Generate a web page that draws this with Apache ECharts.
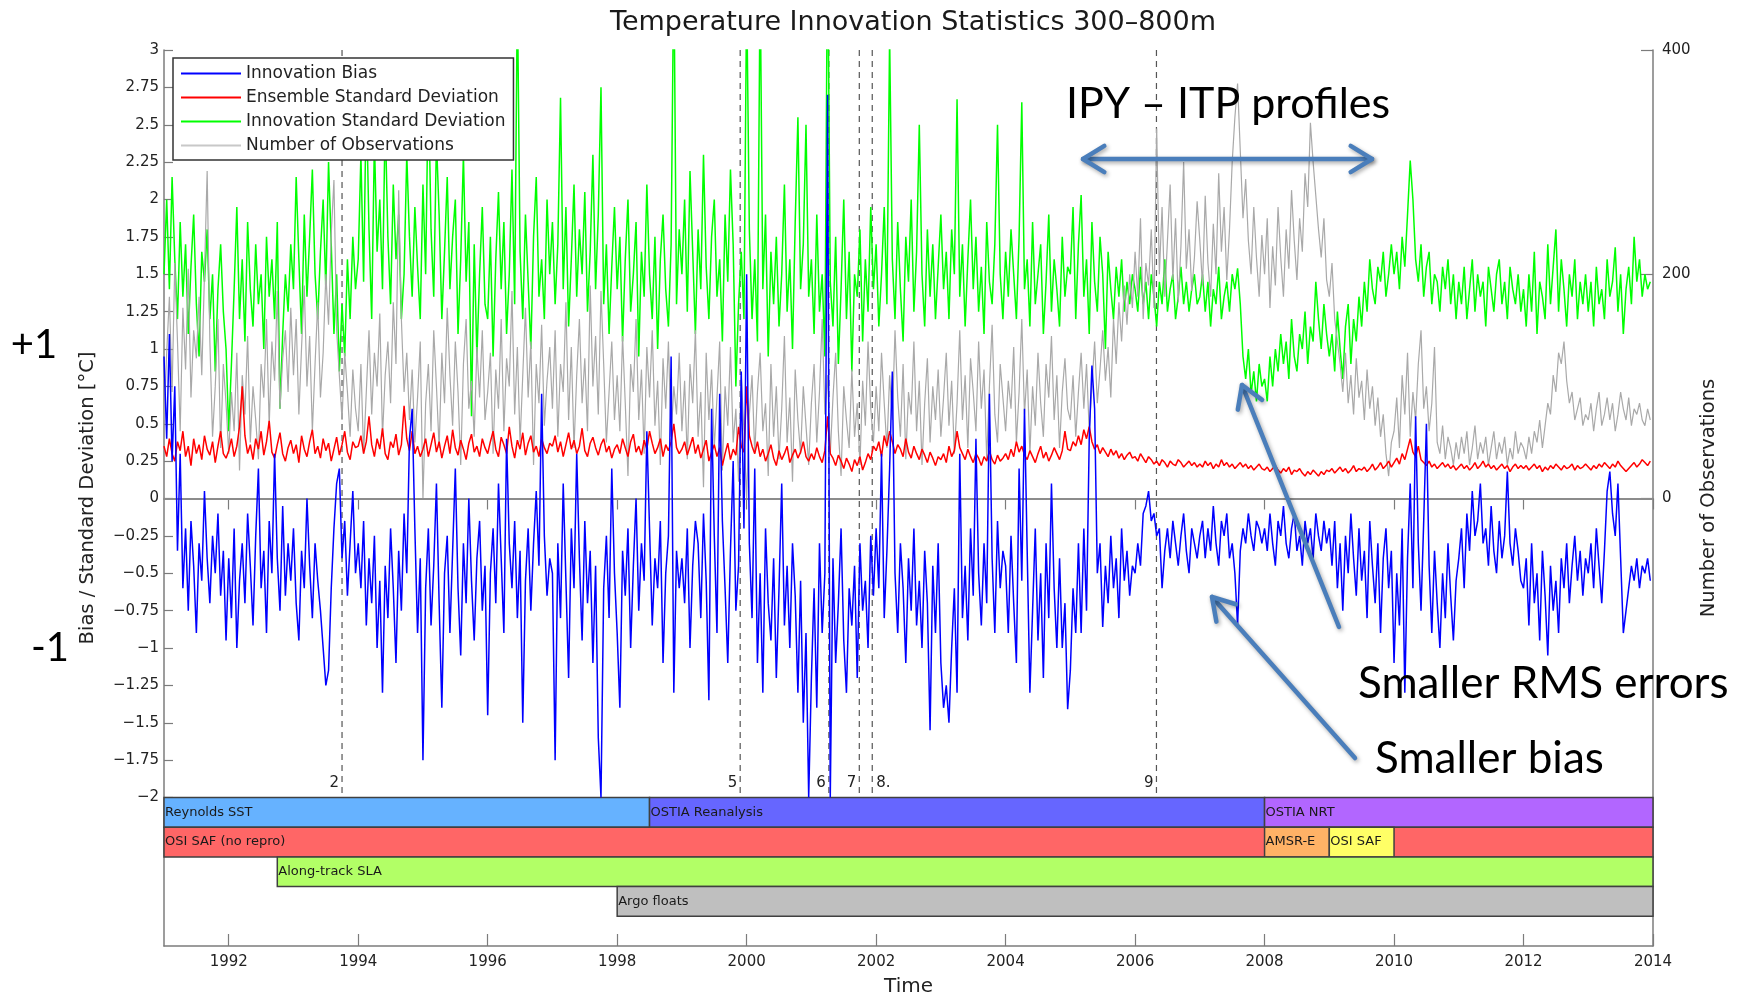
<!DOCTYPE html>
<html>
<head>
<meta charset="utf-8">
<script src="https://cdn.jsdelivr.net/npm/echarts@6/dist/echarts.min.js"></script>
<style>
  html, body { margin: 0; padding: 0; background: #ffffff; }
  #chart { width: 1749px; height: 1004px; }
</style>
</head>
<body>
<div id="chart"></div>
<script>
// Sampling: two values per month, starting January 1991
const START_YEAR = 1991;
const SAMPLES_PER_YEAR = 24;

// Innovation bias, hundredths of a degree C (one row per year)
const innovationBias = [
  95, 40, 110, 25, 75, -35, 30, -60, -20, -75, -15, -45, -90, -30, -55, 5, -40, -70, -25, -50, -10, -65, -35, -95,
  -40, -80, -20, -100, -55, -30, -70, -10, -45, -85, -25, 20, -60, -35, -90, -15, -50, 30, -40, -75, -5, -65, -30, -55,
  -20, -70, -95, -35, -60, 0, -45, -80, -30, -55, -75, -100, -125, -115, -60, -20, 10, 20, -40, -15, -65, -30, 5, -50,
  -30, -60, -15, -85, -40, -70, -25, -100, -55, -130, -45, -80, -20, -60, -110, -35, -75, -10, -50, 40, 60, -20, -90, -40,
  -175, -60, -20, -85, -45, 10, -70, -140, -50, -25, -90, -35, 20, -60, -105, -30, -70, 0, -55, -95, -40, -15, -75, -45,
  -145, -50, -20, -70, 10, -40, -90, 40, -30, -60, -15, -80, -35, -150, -55, -20, -75, -30, 5, -45, 70, -25, -65, -40,
  -50, -175, -30, -80, 10, -55, -120, -20, -60, 30, -40, -95, -15, -70, -35, -110, -45, -160, -200, -60, -25, -80, 20, -50,
  -90, -140, -35, -65, -20, -100, -45, 0, -75, -30, -55, 45, -20, -85, -40, -60, -15, -110, -50, -25, 95, -130, -35, -60,
  -40, -70, -20, -100, -45, -15, -30, -80, -10, -55, -135, 60, -25, -90, 70, -15, -60, -110, -35, 25, -75, -45, 85, -20,
  150, -30, -80, 20, -110, -50, -130, -20, -70, -95, -40, -120, -60, 10, -85, -45, -100, -30, -65, -130, -55, -150, -90, -200,
  -120, -60, -140, -30, -90, -50, 270, -200, -40, -110, -70, -20, -95, -130, -60, -85, -45, -120, -30, -75, -55, -100, -25, -65,
  -20, -60, 30, -80, -35, 20, 85, -50, -90, -30, -60, -110, -40, -75, -20, -85, -55, -100, -35, -70, -155, -45, -90, -30,
  -110, -140, -125, -150, -100, -60, -130, 30, -80, -45, -95, -20, -65, 40, -50, -85, -30, -70, 70, -40, -90, -15, -60, -35,
  -45, -90, -25, -70, -110, 20, -55, 60, -35, -130, -75, -20, -95, -50, -120, -30, -80, 10, -60, -100, -40, -100, -70, -141,
  -115, -60, -90, -30, -90, -20, -75, 40, 89, 60, -50, -30, -86, -45, -70, -25, -60, -40, -80, -20, -55, -35, -65, -45,
  -50, -30, -45, -10, -5, 5, -15, -10, -25, -20, -60, -35, -20, -40, -15, -30, -45, -25, -10, -35, -50, -20, -30, -40,
  -25, -15, -40, -20, -35, -5, -30, -45, -15, -25, -10, -40, -30, -50, -85, -35, -20, -30, -10, -25, -35, -15, -20, -30,
  -20, -35, -10, -30, -45, -15, -25, -5, -30, -40, -20, -10, -35, -25, -45, -15, -30, -20, -40, -10, -25, -35, -15, -30,
  -20, -45, -15, -60, -30, -75, -25, -50, -10, -40, -65, -20, -55, -35, -80, -15, -45, -70, -30, -90, -40, -20, -60, -35,
  -110, -50, -85, -20, -130, -40, 10, -60, 55, -30, -75, -15, 50, -45, -90, -35, -70, -100, -50, -80, -30, -65, -95, -55,
  -40, -20, -60, -10, -35, 5, -25, -15, 10, -30, -20, -45, -5, -35, -50, -15, -40, -25, 18, -30, -45, -20, -35, -55,
  -60, -40, -85, -30, -70, -50, -95, -35, -65, -105, -45, -75, -55, -90, -40, -60, -30, -70, -45, -25, -55, -35, -65, -40,
  -50, -30, -60, -20, -45, -70, -35, 5, 18, -10, -25, 10, -40, -90, -75, -60, -45, -55, -40, -60, -45, -50, -40, -55
];

// Ensemble standard deviation, hundredths of a degree C
const ensembleStd = [
  35, 28, 40, 30, 25, 38, 32, 45, 28, 35, 22, 40, 30, 36, 26, 42, 33, 29, 38, 24, 35, 45, 30, 27,
  32, 40, 28, 35, 48, 75, 42, 30, 36, 26, 40, 33, 45, 29, 38, 52, 31, 27, 36, 44, 30, 25, 34, 39,
  30, 36, 24, 42, 33, 28, 38, 46, 30, 35, 27, 40, 32, 37, 25, 33, 41, 29, 36, 45, 31, 26, 38, 34,
  35, 42, 30, 38, 55, 36, 28, 40, 33, 47, 30, 26, 38, 34, 43, 29, 36, 62, 40, 32, 45, 30, 35, 28,
  33, 40, 28, 36, 44, 31, 38, 27, 35, 42, 30, 46, 34, 29, 39, 33, 26, 37, 43, 31, 35, 28, 40, 34,
  30, 38, 45, 33, 28, 41, 36, 30, 48, 35, 27, 39, 33, 44, 29, 37, 42, 31, 35, 28, 40, 34, 30, 37,
  35, 42, 31, 38, 28, 36, 44, 33, 39, 30, 35, 47, 32, 28, 37, 41, 34, 29, 36, 40, 31, 35, 27, 33,
  36, 30, 40, 34, 28, 38, 43, 31, 35, 29, 39, 33, 45, 37, 30, 34, 40, 28, 36, 32, 38, 50, 34, 30,
  33, 38, 29, 35, 41, 30, 36, 27, 33, 39, 25, 31, 36, 28, 34, 22, 30, 37, 26, 33, 29, 48, 35, 31,
  75, 42, 35, 30, 38, 28, 33, 25, 30, 36, 27, 22, 32, 26, 30, 35, 24, 29, 33, 27, 31, 38, 28, 25,
  30, 26, 34, 28, 24, 32, 55, 30, 27, 22, 29, 25, 20, 27, 23, 18, 26, 22, 28, 19, 24, 30, 26, 35,
  32, 38, 28, 42, 35, 45, 38, 30, 36, 33, 28, 40, 31, 27, 35, 30, 26, 33, 29, 24, 31, 27, 22, 28,
  26, 30, 24, 35, 28, 32, 45, 34, 30, 26, 33, 28, 24, 30, 27, 22, 28, 25, 32, 26, 23, 29, 25, 27,
  30, 26, 33, 28, 38, 31, 35, 29, 26, 32, 28, 24, 30, 35, 27, 31, 25, 29, 34, 30, 26, 32, 45, 33,
  32, 38, 35, 42, 36, 46, 40, 48, 38, 33, 36, 30, 34, 31, 28, 33, 29, 32, 27, 30, 26, 29, 31, 27,
  28, 25, 30, 27, 24, 28, 26, 23, 25, 22, 26, 24, 21, 25, 23, 22, 26, 24, 21, 23, 25, 22, 24, 21,
  23, 21, 25, 22, 24, 20, 23, 21, 26, 22, 24, 21, 23, 20, 22, 24, 21, 23, 20, 22, 19, 21, 23, 20,
  19, 21, 18, 20, 22, 19, 17, 20, 18, 21, 16, 19, 18, 20, 17, 15, 18, 16, 19, 17, 15, 18, 16, 19,
  18, 20, 17, 19, 21, 18, 20, 17, 19, 22, 18, 20, 19, 21, 18, 20, 23, 19, 21, 24, 20, 22, 25, 21,
  24, 27, 23, 30, 26, 33, 40, 31, 28, 35, 26, 24, 22, 25, 21, 23, 20, 22, 24, 21, 23, 20, 22, 19,
  21, 23, 20, 22, 19, 21, 24, 20, 22, 25, 21, 23, 20, 22, 19, 21, 23, 20, 22, 18, 21, 23, 20, 22,
  20, 22, 19, 21, 23, 20, 22, 18, 21, 19, 22, 20, 23, 21, 19, 22, 20, 21, 23, 19, 22, 20, 21, 23,
  21, 19, 22, 20, 23, 21, 24, 22, 20, 23, 21, 25, 22, 20, 18, 20, 22, 24, 21, 23, 26, 24, 22, 25
];

// Innovation standard deviation, hundredths of a degree C
const innovationStd = [
  150, 200, 140, 215, 160, 120, 185, 135, 170, 110, 155, 190, 130, 95, 165, 145, 180, 120, 150, 85, 140, 170, 125, 100,
  45, 90, 140, 195, 120, 160, 105, 185, 140, 115, 170, 130, 150, 100, 175, 135, 160, 120, 185, 60, 110, 150, 125, 170,
  140, 215, 160, 110, 190, 135, 175, 220, 150, 120, 165, 200, 140, 225, 170, 110, 150, 85, 130, 95, 160, 120, 175, 140,
  160, 230, 145, 270, 180, 120, 240, 165, 200, 140, 255, 175, 130, 210, 160, 190, 120, 150, 230, 175, 135, 195, 155, 120,
  210, 150, 280, 180, 135, 240, 190, 120, 165, 215, 140, 175, 200, 110, 160, 230, 145, 185, 55, 170, 95, 150, 195, 130,
  120, 175, 95, 160, 205, 140, 185, 110, 150, 220, 130, 340, 165, 120, 190, 145, 100, 175, 215, 135, 160, 120, 200, 150,
  185, 130, 170, 268, 140, 195, 115, 160, 210, 135, 180, 150, 205, 125, 165, 230, 140, 190, 275, 130, 170, 110, 155, 195,
  140, 175, 105, 160, 200, 125, 150, 185, 95, 165, 135, 210, 150, 120, 175, 100, 160, 190, 140, 115, 170, 360, 130, 180,
  150, 200, 125, 219, 165, 110, 180, 140, 230, 155, 120, 175, 200, 135, 160, 105, 190, 145, 220, 170, 75, 130, 165, 120,
  340, 180, 120, 160, 105, 350, 140, 190, 95, 165, 130, 175, 115, 150, 210, 125, 160, 100, 185, 255, 140, 170, 250, 135,
  160, 110, 190, 125, 150, 95, 380, 145, 115, 175, 90, 140, 200, 120, 165, 85, 150, 135, 180, 105, 160, 125, 195, 140,
  170, 115, 150, 195, 130, 310, 160, 120, 185, 140, 105, 175, 145, 200, 125, 165, 250, 150, 115, 180, 135, 170, 120, 155,
  190, 140, 165, 120, 180, 150, 267, 135, 170, 115, 160, 200, 140, 175, 125, 155, 110, 185, 145, 130, 170, 250, 150, 120,
  165, 135, 180, 150, 120, 175, 265, 140, 160, 115, 185, 130, 150, 170, 110, 145, 190, 125, 160, 140, 115, 175, 135, 155,
  150, 195, 120, 170, 203, 135, 160, 110, 185, 145, 125, 175, 150, 100, 165, 140, 120, 155, 135, 160, 125, 145, 130, 150,
  140, 125, 155, 130, 145, 120, 150, 135, 115, 145, 130, 160, 125, 140, 150, 120, 135, 155, 130, 145, 125, 140, 150, 130,
  135, 150, 125, 145, 115, 140, 130, 155, 120, 135, 145, 125, 150, 140, 154, 130, 95, 80, 100, 70, 85, 65, 90, 75,
  80, 65, 95, 75, 100, 85, 110, 90, 105, 80, 120, 95, 85, 110, 100, 125, 90, 115, 105, 145, 120, 100, 130, 110,
  95, 110, 85, 125, 100, 80, 115, 130, 90, 120, 105, 135, 115, 145, 125, 160, 140, 130, 155, 145, 165, 135, 150, 170,
  150, 165, 140, 175, 155, 190, 226, 200, 160, 145, 170, 135, 155, 165, 130, 150, 145, 125, 155, 140, 160, 130, 150, 120,
  145, 130, 155, 120, 140, 160, 125, 150, 135, 145, 115, 155, 140, 125, 150, 160, 130, 145, 120, 155, 140, 130, 150, 125,
  140, 115, 150, 125, 165, 110, 145, 135, 120, 170, 130, 155, 180, 125, 160, 140, 115, 150, 135, 160, 120, 145, 130, 150,
  125, 145, 115, 155, 130, 140, 120, 160, 135, 145, 168, 125, 150, 110, 140, 155, 130, 175, 145, 160, 135, 150, 140, 145
];

// Number of observations per sample
const observationCount = [
  70, 130, 180, 95, 210, 140, 60, 170, 115, 205, 90, 150, 125, 180, 110, 200, 292, 140, 55, 100, 160, 45, 120, 85,
  40, 95, 60, 130, 25, 110, 75, 145, 50, 100, 70, 35, 120, 90, 160, 65, 140, 105, 185, 80, 125, 150, 95, 170,
  110, 160, 75, 135, 190, 100, 145, 60, 120, 175, 90, 130, 200, 155, 236, 284, 150, 110, 70, 130, 95, 55, 115, 80,
  60, 120, 40, 95, 150, 75, 130, 100, 165, 55, 110, 140, 85, 175, 120, 275, 160, 95, 130, 70, 115, 50, 90, 140,
  0, 85, 120, 60, 150, 100, 45, 130, 85, 170, 110, 65, 140, 95, 30, 120, 160, 80, 105, 55, 135, 90, 150, 70,
  95, 130, 40, 115, 80, 160, 60, 125, 100, 185, 75, 135, 50, 110, 170, 90, 140, 30, 120, 85, 155, 65, 105, 135,
  80, 150, 55, 120, 95, 175, 70, 135, 45, 110, 160, 85, 125, 60, 190, 100, 145, 75, 185, 120, 50, 95, 140, 70,
  110, 60, 145, 85, 20, 120, 95, 160, 70, 115, 40, 135, 90, 150, 65, 105, 30, 125, 80, 140, 55, 100, 75, 130,
  60, 105, 35, 120, 85, 150, 55, 95, 10, 130, 70, 115, 45, 90, 140, 25, 100, 65, 135, 50, 80, 15, 110, 60,
  0, 75, 110, 40, 95, 130, 60, 85, 20, 120, 55, 100, 35, 80, 145, 50, 90, 15, 115, 70, 40, 100, 65, 30,
  85, 120, 50, 95, 160, 75, 110, 40, 90, 130, 60, 20, 100, 70, 45, 115, 55, 85, 30, 105, 65, 140, 80, 50,
  100, 60, 130, 85, 45, 110, 70, 150, 90, 55, 120, 35, 95, 75, 140, 60, 105, 30, 85, 125, 50, 100, 70, 115,
  55, 90, 130, 65, 105, 40, 85, 150, 70, 110, 45, 125, 95, 60, 140, 80, 115, 35, 100, 155, 75, 50, 120, 90,
  60, 105, 80, 135, 50, 95, 160, 75, 115, 40, 100, 65, 130, 85, 55, 120, 90, 145, 70, 110, 45, 95, 125, 80,
  70, 110, 55, 95, 130, 80, 120, 60, 100, 140, 85, 115, 150, 105, 135, 90, 160, 120, 175, 140, 190, 155, 200, 170,
  220, 180, 250, 160, 210, 190, 240, 170, 330, 200, 260, 180, 230, 280, 195, 250, 175, 225, 300, 205, 240, 185, 215, 265,
  230, 190, 270, 210, 180, 245, 200, 290, 220, 260, 195, 240, 300, 340, 370, 310, 250, 285, 230, 200, 260, 215, 180, 235,
  200, 250, 170, 225, 190, 260, 215, 180, 240, 205, 275, 230, 195, 250, 220, 290, 260, 335, 300, 270, 240, 215, 250, 195,
  180, 210, 160, 140, 120, 95, 130, 85, 110, 75, 125, 90, 105, 70, 115, 80, 100, 65, 90, 55, 75, 40, 20, 50,
  60, 90, 45, 110, 75, 130, 55, 95, 70, 120, 150, 80, 100, 60, 85, 135, 50, 40, 65, 35, 55, 45, 30, 50,
  35, 55, 40, 60, 30, 45, 65, 35, 50, 40, 55, 30, 45, 60, 35, 50, 40, 55, 30, 45, 35, 60, 40, 50,
  45, 35, 55, 40, 60, 50, 70, 45, 65, 85, 75, 110, 95, 130, 120, 140, 105, 85, 95, 70, 80, 90, 65, 75,
  70, 85, 60, 80, 95, 65, 75, 90, 70, 85, 60, 75, 95, 80, 70, 90, 65, 80, 75, 85, 70, 65, 80, 70
];

// Axis ticks
const yearTicks = [1992, 1994, 1996, 1998, 2000, 2002, 2004, 2006, 2008, 2010, 2012, 2014];
const observationTicks = [0, 200, 400];

// Numbered system events (dashed markers)
const eventYears = [1993.75, 1999.9, 2001.27, 2001.74, 2001.94, 2006.33];
const eventLabels = ['2', '5', '6', '7', '8.', '9'];

// Data sources assimilated over time
const sourceNames = ['Reynolds SST', 'OSTIA Reanalysis', 'OSTIA NRT', 'OSI SAF (no repro)', 'AMSR-E', 'OSI SAF', 'Along-track SLA', 'Argo floats'];
const sourceStart = [1991, 1998.5, 2008, 1991, 2008, 2009, 1992.75, 1998];
const sourceEnd = [1998.5, 2008, 2014, 2014, 2009, 2010, 2014, 2014];
const sourceRow = [0, 0, 0, 1, 1, 1, 2, 3];

// ---- styling ----
const sourceColors = ['#66b2ff', '#6666ff', '#b266ff', '#ff6666', '#ffb266', '#ffff66', '#b2ff66', '#bfbfbf'];
const FONT = '"DejaVu Sans", sans-serif';
const NOTE_FONT = 'Lato, "Open Sans", sans-serif';
const AXIS_COLOR = '#7c7c7c';
const TEXT_COLOR = '#222222';
const NOTE_BLUE = '#4a7ebb';
const Y_MIN = -2, Y_MAX = 3;
const OBS_MAX = 400;
const OBS_MIN = Y_MIN * OBS_MAX / Y_MAX;   // keeps obs = 0 level with bias = 0
const X_MIN = 1991, X_MAX = 2014;

function toPoints(values, divisor) {
  return values.map((v, i) => [START_YEAR + i / SAMPLES_PER_YEAR, v / divisor]);
}

const axisLine = { show: true, lineStyle: { color: AXIS_COLOR, width: 1.5 } };
const tickStyle = { color: AXIS_COLOR, width: 1.2 };
const labelStyle = { fontFamily: FONT, fontSize: 15, color: TEXT_COLOR };

// Annotation arrows (open chevron heads)
const arrowStyle = {
  stroke: NOTE_BLUE, lineWidth: 4.5, lineCap: 'round', lineJoin: 'round',
  shadowBlur: 4, shadowColor: 'rgba(0,0,0,0.35)', shadowOffsetX: 1.5, shadowOffsetY: 2
};
function chevron(tx, ty, fx, fy) {
  const a = Math.atan2(fy - ty, fx - tx), len = 25, spread = 0.55;
  return {
    type: 'polyline', z: 100, silent: true,
    shape: { points: [
      [tx + len * Math.cos(a + spread), ty + len * Math.sin(a + spread)],
      [tx, ty],
      [tx + len * Math.cos(a - spread), ty + len * Math.sin(a - spread)]
    ] },
    style: Object.assign({ fill: null }, arrowStyle)
  };
}
function arrow(x1, y1, x2, y2, both) {
  const parts = [
    { type: 'line', z: 100, silent: true, shape: { x1, y1, x2, y2 }, style: arrowStyle },
    chevron(x2, y2, x1, y1)
  ];
  if (both) parts.push(chevron(x1, y1, x2, y2));
  return parts;
}
function note(text, x, y, align, size) {
  return {
    type: 'text', z: 100, silent: true, x, y,
    style: {
      text, font: size + 'px ' + NOTE_FONT, fill: '#000',
      align, textAlign: align, verticalAlign: 'middle', textVerticalAlign: 'middle'
    }
  };
}

const chart = echarts.init(document.getElementById('chart'), null, { renderer: 'canvas' });

const option = {
  animation: false,
  backgroundColor: '#ffffff',
  title: {
    text: 'Temperature Innovation Statistics 300–800m',
    left: 908, top: 4, textAlign: 'center',
    textStyle: { fontFamily: FONT, fontSize: 27, fontWeight: 'normal', color: '#1a1a1a' }
  },
  legend: {
    data: ['Innovation Bias', 'Ensemble Standard Deviation', 'Innovation Standard Deviation', 'Number of Observations'],
    orient: 'vertical', left: 173, top: 58, z: 10,
    backgroundColor: '#ffffff', borderColor: '#333333', borderWidth: 1.5, borderRadius: 0,
    padding: [7, 8, 6, 8], itemGap: 7, itemWidth: 60, itemHeight: 2, icon: 'rect',
    textStyle: { fontFamily: FONT, fontSize: 17, color: TEXT_COLOR }
  },
  grid: [
    { left: 164, right: 96, top: 50, height: 747.5 },   // statistics panel
    { left: 164, right: 96, top: 797.5, height: 148.5 }, // data source bars
    { left: 164, right: 96, top: 50, height: 896 }       // outer frame
  ],
  xAxis: [
    {
      gridIndex: 0, type: 'value', min: X_MIN, max: X_MAX, position: 'top',
      axisLine: axisLine,
      axisTick: { show: true, inside: true, length: 11, customValues: yearTicks, lineStyle: tickStyle },
      axisLabel: { show: false }, splitLine: { show: false }
    },
    { gridIndex: 1, type: 'value', min: X_MIN, max: X_MAX, show: false },
    {
      gridIndex: 2, type: 'value', min: X_MIN, max: X_MAX, position: 'bottom',
      axisLine: axisLine,
      axisTick: { show: true, inside: true, length: 12, customValues: yearTicks, lineStyle: tickStyle },
      axisLabel: Object.assign({ customValues: yearTicks, margin: 9, formatter: v => String(v) }, labelStyle),
      splitLine: { show: false },
      name: 'Time', nameLocation: 'middle', nameGap: 31,
      nameTextStyle: { fontFamily: FONT, fontSize: 20, color: TEXT_COLOR }
    }
  ],
  yAxis: [
    {
      gridIndex: 0, type: 'value', min: Y_MIN, max: Y_MAX, interval: 0.25,
      axisLine: { show: false },
      axisTick: { show: true, inside: true, length: 9, lineStyle: tickStyle },
      axisLabel: Object.assign({ margin: 5, formatter: v => String(v).replace('-', '\u2212') }, labelStyle),
      splitLine: { show: false }
    },
    {
      gridIndex: 0, type: 'value', position: 'right', min: OBS_MIN, max: OBS_MAX,
      axisLine: { show: false },
      axisTick: { show: true, inside: true, length: 12, customValues: observationTicks, lineStyle: tickStyle },
      axisLabel: Object.assign({ customValues: observationTicks, margin: 9, formatter: v => String(v) }, labelStyle),
      splitLine: { show: false }
    },
    { gridIndex: 1, type: 'value', min: 0, max: 5, inverse: true, show: false },
    {
      gridIndex: 2, type: 'value', position: 'left', min: 0, max: 1,
      axisLine: axisLine, axisTick: { show: false }, axisLabel: { show: false }, splitLine: { show: false },
      name: 'Bias / Standard Deviation [°C]', nameLocation: 'middle', nameGap: 66,
      nameTextStyle: { fontFamily: FONT, fontSize: 19.5, color: TEXT_COLOR }
    },
    {
      gridIndex: 2, type: 'value', position: 'right', min: 0, max: 1,
      axisLine: axisLine, axisTick: { show: false }, axisLabel: { show: false }, splitLine: { show: false },
      name: 'Number of Observations', nameLocation: 'middle', nameGap: 46,
      nameTextStyle: { fontFamily: FONT, fontSize: 19.5, color: TEXT_COLOR }
    }
  ],
  series: [
    {
      name: 'Innovation Standard Deviation', type: 'line', xAxisIndex: 0, yAxisIndex: 0, z: 3,
      data: toPoints(innovationStd, 100), showSymbol: false, symbol: 'none',
      lineStyle: { color: '#00ff00', width: 1.5 }, itemStyle: { color: '#00ff00' },
      markLine: {
        silent: true, symbol: ['none', 'none'], label: { show: false },
        lineStyle: { color: '#8c8c8c', width: 2, type: 'solid' },
        data: [{ yAxis: 0 }]
      }
    },
    {
      name: 'Number of Observations', type: 'line', xAxisIndex: 0, yAxisIndex: 1, z: 4,
      data: toPoints(observationCount, 1), showSymbol: false, symbol: 'none',
      lineStyle: { color: '#a9a9a9', width: 1.2 }, itemStyle: { color: '#c8c8c8' }
    },
    {
      name: 'Ensemble Standard Deviation', type: 'line', xAxisIndex: 0, yAxisIndex: 0, z: 5,
      data: toPoints(ensembleStd, 100), showSymbol: false, symbol: 'none',
      lineStyle: { color: '#ff0000', width: 1.5 }, itemStyle: { color: '#ff0000' }
    },
    {
      name: 'Innovation Bias', type: 'line', xAxisIndex: 0, yAxisIndex: 0, z: 6,
      data: toPoints(innovationBias, 100), showSymbol: false, symbol: 'none',
      lineStyle: { color: '#0000ff', width: 1.5 }, itemStyle: { color: '#0000ff' }
    },
    {
      // dashed event markers with their numbers
      type: 'custom', xAxisIndex: 0, yAxisIndex: 0, z: 2, silent: true,
      data: eventYears.map((t, i) => [t, i]),
      encode: { x: 0, y: 1 },
      renderItem: function (params, api) {
        const t = api.value(0);
        const label = eventLabels[api.value(1)];
        const top = api.coord([t, Y_MAX]);
        const bottom = api.coord([t, Y_MIN]);
        const right = label.endsWith('.');
        return {
          type: 'group',
          children: [
            { type: 'line', shape: { x1: top[0], y1: top[1], x2: bottom[0], y2: bottom[1] },
              style: { stroke: '#555555', lineWidth: 1.2, lineDash: [6, 5] } },
            { type: 'text', style: {
                text: label, x: bottom[0] + (right ? 4 : -3), y: bottom[1] - 14,
                align: right ? 'left' : 'right', textAlign: right ? 'left' : 'right',
                verticalAlign: 'middle', textVerticalAlign: 'middle',
                font: '15px "DejaVu Sans"', fill: TEXT_COLOR } }
          ]
        };
      }
    },
    {
      // data source timeline bars
      type: 'custom', xAxisIndex: 1, yAxisIndex: 2, z: 2, silent: true,
      data: sourceNames.map((n, i) => [sourceStart[i], sourceEnd[i], sourceRow[i], i]),
      encode: { x: [0, 1], y: 2 },
      renderItem: function (params, api) {
        const i = api.value(3);
        const p0 = api.coord([api.value(0), api.value(2)]);
        const p1 = api.coord([api.value(1), api.value(2) + 1]);
        return {
          type: 'group',
          children: [
            { type: 'rect', shape: { x: p0[0], y: p0[1], width: p1[0] - p0[0], height: p1[1] - p0[1] },
              style: { fill: sourceColors[i], stroke: '#404040', lineWidth: 1.5 } },
            { type: 'text', style: {
                text: sourceNames[i], x: p0[0] + 1, y: (p0[1] + p1[1]) / 2,
                align: 'left', textAlign: 'left', verticalAlign: 'middle', textVerticalAlign: 'middle',
                font: '13px "DejaVu Sans"', fill: '#1a1a1a' } }
          ]
        };
      }
    }
  ],
  graphic: [
    note('+1', 34, 345, 'center', 40),
    note('-1', 50, 648, 'center', 40),
    note('IPY – ITP profiles', 1066, 104, 'left', 43),
    note('Smaller RMS errors', 1358, 684, 'left', 44),
    note('Smaller bias', 1375, 759, 'left', 44)
  ].concat(
    arrow(1083, 159, 1372, 159, true),
    arrow(1339, 627, 1242, 385, false),
    arrow(1355, 758, 1212, 597, false)
  )
};

chart.setOption(option);
</script>
</body>
</html>
